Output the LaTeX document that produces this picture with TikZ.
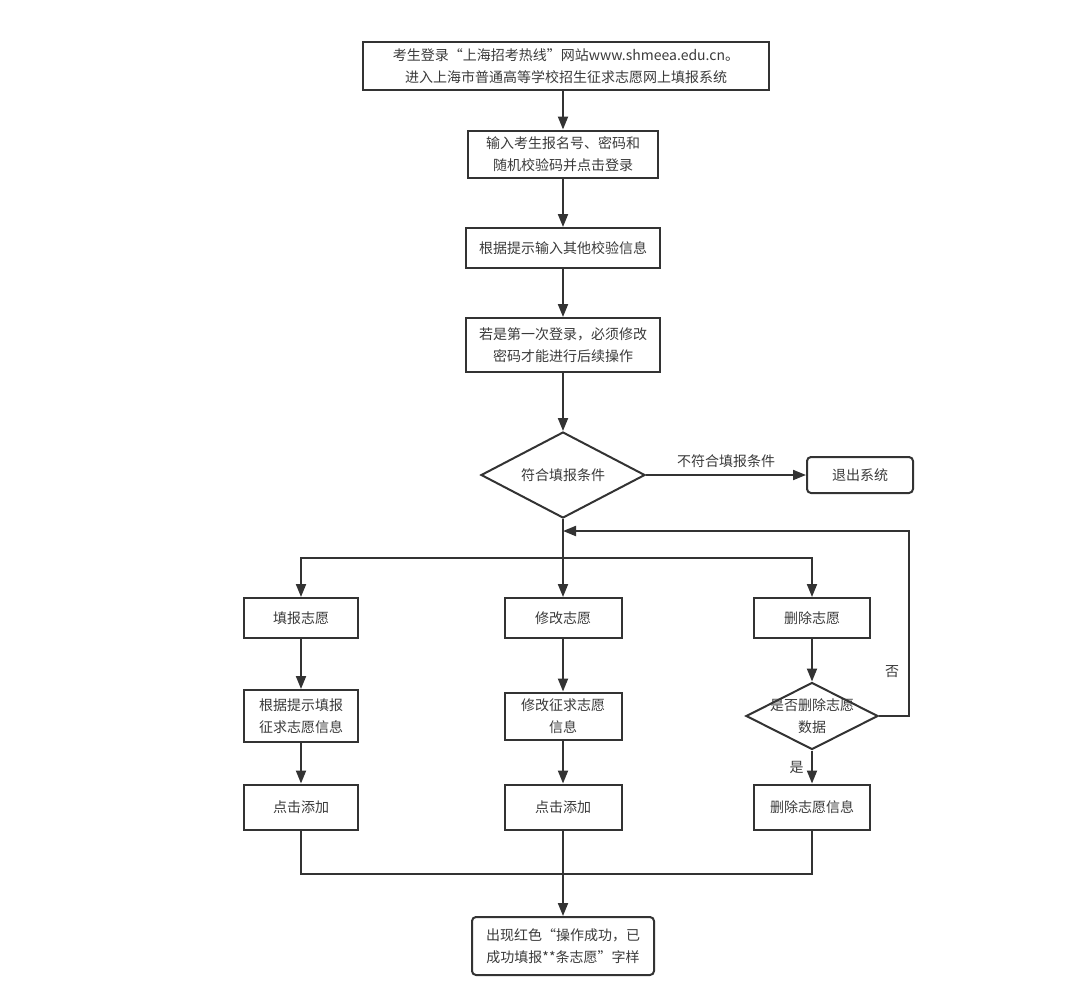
\documentclass[tikz,border=0pt]{standalone}
\usepackage{fontspec}
\newfontfamily\cjk{Noto Sans CJK SC}
\usetikzlibrary{arrows.meta,shapes.geometric}
\definecolor{ln}{HTML}{333333}
\definecolor{tx}{HTML}{3A3A3A}
\begin{document}
\begin{tikzpicture}[x=1pt,y=-1pt,
  every node/.style={font=\cjk\fontsize{14}{22}\selectfont, text=tx},
  box/.style={draw=ln, line width=2pt, align=center, inner sep=0pt},
  rbox/.style={box, rounded corners=4pt},
  dia/.style={draw=ln, line width=2pt, diamond, inner sep=0pt, aspect=1.9},
  arr/.style={draw=ln, line width=2pt, -{Triangle[length=13pt,width=10pt]}},
  ln/.style={draw=ln, line width=2pt}]
\useasboundingbox (0,0) rectangle (1080,986);
\node[box, minimum width=406, minimum height=48] (top) at (566,66) {考生登录“上海招考热线”网站www.shmeea.edu.cn。\\进入上海市普通高等学校招生征求志愿网上填报系统};
\node[box, minimum width=190, minimum height=47] (b2) at (563,154) {输入考生报名号、密码和\\随机校验码并点击登录};
\node[box, minimum width=194, minimum height=40] (b3) at (563,248) {根据提示输入其他校验信息};
\node[box, minimum width=194, minimum height=54] (b4) at (563,345) {若是第一次登录，必须修改\\密码才能进行后续操作};
\node[dia, minimum width=164, minimum height=86] (d1) at (563,475) {符合填报条件};
\node[rbox, minimum width=106, minimum height=36] (ex) at (860,475) {退出系统};

\node[box, minimum width=114, minimum height=40] (a1) at (301,618) {填报志愿};
\node[box, minimum width=114, minimum height=52] (a2) at (301,716) {根据提示填报\\征求志愿信息};
\node[box, minimum width=114, minimum height=45] (a3) at (301,807) {点击添加};

\node[box, minimum width=117, minimum height=40] (c1) at (563,618) {修改志愿};
\node[box, minimum width=117, minimum height=47] (c2) at (563,716) {修改征求志愿\\信息};
\node[box, minimum width=117, minimum height=45] (c3) at (563,807) {点击添加};

\node[box, minimum width=116, minimum height=40] (e1) at (812,618) {删除志愿};
\node[dia, minimum width=132, minimum height=67, label={[align=center]center:是否删除志愿\\数据}] (e2) at (812,716) {};
\node[box, minimum width=116, minimum height=45] (e3) at (812,807) {删除志愿信息};

\node[rbox, minimum width=182, minimum height=58] (fin) at (563,946) {出现红色“操作成功，已\\成功填报**条志愿”字样};

\coordinate (br) at (563,558);
\coordinate (fb) at (563,531);
\coordinate (fbr) at (909,531);
\coordinate (mg) at (563,874);

\draw[arr] (top.south -| b2.north) -- (b2.north);
\draw[arr] (b2) -- (b3);
\draw[arr] (b3) -- (b4);
\draw[arr] (b4) -- (d1);
\draw[arr] (d1.east) -- node[above=3pt] (nl) {不符合填报条件} (ex.west);
\draw[ln] (d1.south) -- (br);
\draw[arr] (br) -| (a1.north);
\draw[arr] (br) -- (c1.north);
\draw[arr] (br) -| (e1.north);
\draw[arr] (a1) -- (a2);
\draw[arr] (a2) -- (a3);
\draw[arr] (c1) -- (c2);
\draw[arr] (c2) -- (c3);
\draw[arr] (e1) -- (e2);
\draw[arr] (e2) -- node[left=4pt] (yes) {是} (e3);
\draw[arr] (e2.east) -| (fbr) -- (fb);
\node (no) at (892,672) {否};
\draw[ln] (a3.south) |- (mg);
\draw[ln] (e3.south) |- (mg);
\draw[ln] (c3.south) -- (mg);
\draw[arr] (mg) -- (fin.north);
\end{tikzpicture}
\end{document}
